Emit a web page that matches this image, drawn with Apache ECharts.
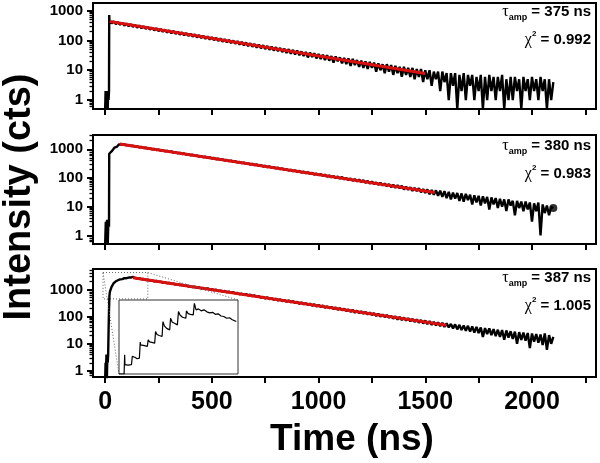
<!DOCTYPE html>
<html><head><meta charset="utf-8">
<script src="https://cdn.jsdelivr.net/npm/echarts@6/dist/echarts.min.js"></script>
<style>html,body{margin:0;padding:0;background:#fff}#c{width:600px;height:463px}</style>
</head><body><div id="c"></div>
<script>
// ---------- tick labels ----------
const xTickValues = [0, 250, 500, 750, 1000, 1250, 1500, 1750, 2000, 2250];
const xLabelValues = [0, 500, 1000, 1500, 2000];
const yLabelValues = [1, 10, 100, 1000];
const insetXTicks = [0, 13, 26, 39, 52, 65, 78, 91, 104, 117, 130, 143, 156, 169, 182, 195];
const insetYTicks = [600, 1200, 1800, 2400];

// ---------- annotations ----------
const tauTop = '375 ns', chiTop = '0.992';
const tauMid = '380 ns', chiMid = '0.983';
const tauBot = '387 ns', chiBot = '1.005';

// ---------- top panel data (time ns, counts) ----------
const topRiseTime = [0, 2, 4, 6, 8, 10, 12, 14, 16, 18, 19];
const topRiseCounts = [0.5, 2, 0.5, 2, 1, 2, 0.5, 2, 1, 2, 720];
const topDecayStart = 20, topDecayStep = 10;
const topDecayCounts = [
 455,378,432,355,410,340,390,318,370,302,
 350,288,332,272,316,258,298,246,284,232,
 268,220,255,206,242,197,229,186,218,176,
 206,168,196,158,186,150,176,143,167,135,
 159,128,150,121,143,114,135,108,128,103,
 122,97,116,91,110,87,104,82,99,78,
 94,73,89,69,85,65,80,62,76,58,
 72,55,69,52,65,49,62,46,59,44,
 56,41,53,38,51,36,48,34,46,32,
 43,30,41,27,39,28,37,25,35,24,
 33,22,32,21,30,18,29,20,27,17,
 26,16,25,14,24,15,22,13,21,12,
 20,11,19,12,18,9,17,10,16,8,
 16,9,15,7,14,8,13,6,13,7,
 12,6,12,5,11,6,11,4,10,5,
 10,3,9,5,9,2,9,4,8,1,
 8,3,8,0.5,7,2,8,1,7,3,
 7,1,6,2,7,0.5,6,1,7,2,
 6,1,6,2,7,0.5,5,1,6,1,
 6,2,5,0.5,6,2,5,1,6,2,
 5,1,6,2,5,0.5,5,1,4
];
const topFitTime = [22, 1500];
const topFitCounts = [430, 7.8];

// ---------- middle panel data ----------
const midRiseTime = [0, 3, 6, 9, 12, 15, 18, 19, 22, 25, 28, 31, 34, 37, 40, 44, 48, 52, 56, 60, 64];
const midRiseCounts = [0.5, 3, 1, 3.5, 0.5, 3, 2, 700, 620, 780, 680, 860, 760, 980, 900, 1150, 1080, 1300, 1250, 1420, 1480];
const midDecayStart = 70, midDecayStep = 10;
const midDecayCounts = [
 1560,1460,1475,1380,1400,1310,1330,1240,1265,1175,
 1200,1110,1140,1055,1080,1000,1030,950,975,905,
 925,855,880,815,850,770,800,730,755,690,
 715,655,680,620,645,590,610,560,580,530,
 550,505,525,480,500,450,470,428,448,405,
 425,385,405,365,385,345,362,330,345,310,
 326,295,312,280,296,265,280,250,265,238,
 252,226,240,215,228,203,215,192,204,181,
 194,172,184,164,176,154,166,147,158,140,
 150,132,142,126,136,120,130,112,122,106,
 116,100,112,95,108,90,100,85,96,80,
 91,76,88,73,84,68,79,64,75,62,
 70,58,68,55,64,52,61,48,58,46,
 56,44,53,40,50,39,47,36,45,35,
 44,32,41,30,40,27,38,26,37,24,
 36,22,35,20,33,18,31,19,30,16,
 29,15,28,17,26,12,25,14,24,11,
 23,13,22,8,21,12,20,9,19,10,
 18,7,18,11,16,5,16,9,15,7,
 15,8,14,3,13,7,14,1,12,6,
 11,5,10,9
];
const midFitTime = [69, 1545];
const midFitCounts = [1530, 31];

// ---------- bottom panel data ----------
const botRiseTime = [0, 2, 4, 6, 8, 10, 12, 14, 16, 18, 20, 22, 26, 30, 35, 40, 45, 50, 55, 60, 65, 70, 80, 90, 100, 110, 120, 130];
const botRiseCounts = [0.5, 2, 1, 4, 0.5, 3, 2, 4, 30, 180, 600, 820, 960, 1260, 1400, 1700, 1850, 2000, 2050, 2200, 2150, 2350, 2400, 2600, 2600, 2750, 2750, 2900];
const botDecayStart = 140, botDecayStep = 10;
const botDecayCounts = [
 2700,2520,2560,2390,2420,2240,2290,2120,2170,2000,
 2060,1900,1950,1800,1850,1700,1750,1610,1650,1520,
 1570,1440,1490,1360,1410,1290,1330,1220,1260,1150,
 1190,1090,1130,1030,1100,980,1040,930,985,870,
 910,830,880,790,835,760,790,720,750,660,
 700,630,680,600,640,570,600,530,570,500,
 530,470,510,445,480,420,455,395,432,375,
 410,352,392,338,374,318,352,296,335,285,
 312,270,298,255,285,238,270,228,256,215,
 238,205,228,192,218,180,206,172,196,162,
 182,152,176,140,165,136,156,130,148,122,
 140,115,134,106,127,101,120,97,114,92,
 106,85,102,78,97,75,92,72,87,68,
 82,64,79,60,75,56,72,53,68,50,
 64,48,61,45,59,42,57,40,54,37,
 52,34,50,32,47,30,46,28,44,26,
 42,25,40,18,38,23,37,21,35,19,
 33,18,32,14,31,17,29,15,28,10,
 27,14,26,13,25,7,24,12,23,11,
 22,9,24,6,21,10,18
];
const botFitTime = [131, 1600];
const botFitCounts = [2700, 48];

// ---------- inset (zoom of the rise in bottom panel) ----------
const insetTime = [-10, -1, 0, 0.5, 3, 6, 9, 12, 13.5, 14, 18, 22, 26, 27.5, 28, 31, 35, 40, 41.5, 44, 48, 53, 54.5, 57, 61, 66, 67.6, 70, 74, 79.5, 81, 84, 88, 93, 95, 98, 102, 108, 109, 112, 116, 121, 123, 126, 130, 135, 140, 145, 150, 155, 160, 165, 170, 175, 180, 185, 190, 197];
const insetCounts = [0, 0, 780, 377, 400, 360, 390, 380, 713, 646, 680, 620, 646, 1291, 1180, 1230, 1150, 1117, 1386, 1300, 1280, 1251, 1722, 1600, 1560, 1520, 2126, 1950, 1850, 1789, 2260, 2100, 2060, 1991, 2529, 2380, 2300, 2260, 2556, 2450, 2420, 2395, 2865, 2596, 2640, 2560, 2600, 2520, 2480, 2500, 2420, 2440, 2350, 2330, 2260, 2280, 2200, 2126];
const zoomBoxTime = [-10, 200];
const zoomBoxCounts = [450, 4200];
const midEndTime = [2100], midEndCounts = [9];

// ---------- helpers ----------
const zip = (xs, ys) => xs.map((x, i) => [x, ys[i]]);
const stepPairs = (start, step, ys) => ys.map((y, i) => [start + i * step, y]);

const topData = zip(topRiseTime, topRiseCounts).concat(stepPairs(topDecayStart, topDecayStep, topDecayCounts));
const midData = zip(midRiseTime, midRiseCounts).concat(stepPairs(midDecayStart, midDecayStep, midDecayCounts));
const botData = zip(botRiseTime, botRiseCounts).concat(stepPairs(botDecayStart, botDecayStep, botDecayCounts));

const FONT = '"Liberation Sans", Arial, sans-serif';
const grids = [
  {left: 93, right: 4, top: 3, height: 106},
  {left: 93, right: 4, top: 135, height: 109},
  {left: 93, right: 4, top: 269, height: 108}
];
const yRanges = [[0.5, 1810], [0.5, 3160], [0.6, 5680]];
const BLACK_W = 2.4;
const INSET_Y = 3;

const option = {
  backgroundColor: '#fff',
  animation: false,
  grid: grids.map(g => Object.assign({show: true, borderColor: '#000', borderWidth: 2, containLabel: false}, g)).concat([
    {left: 119, top: 300, width: 119, height: 74, show: true, borderColor: '#333', borderWidth: 1, backgroundColor: '#fff', z: 5}
  ]),
  xAxis: [0, 1, 2].map(i => ({
    type: 'value', gridIndex: i, min: -57, max: 2300, position: 'bottom',
    axisLine: {show: true, onZero: false, lineStyle: {color: '#000', width: 2}},
    axisTick: {show: true, inside: false, length: 6, customValues: xTickValues, lineStyle: {color: '#000', width: 2}},
    axisLabel: {show: i === 2, customValues: xLabelValues, margin: 13, color: '#000', fontSize: 25, fontWeight: 'bold', fontFamily: FONT, formatter: v => String(v)},
    splitLine: {show: false}
  })).concat([{
    type: 'value', gridIndex: 3, min: zoomBoxTime[0], max: zoomBoxTime[1], position: 'bottom',
    axisLine: {show: false, onZero: false},
    axisTick: {show: true, inside: true, length: 2, customValues: insetXTicks, lineStyle: {color: '#333', width: 1}},
    axisLabel: {show: false}, splitLine: {show: false}
  }]),
  yAxis: [0, 1, 2].map(i => ({
    type: 'log', gridIndex: i, position: 'left', min: yRanges[i][0], max: yRanges[i][1],
    axisLine: {show: true, onZero: false, lineStyle: {color: '#000', width: 2}},
    axisTick: {show: true, inside: false, length: 6, customValues: yLabelValues, lineStyle: {color: '#000', width: 2}},
    minorTick: {show: true, splitNumber: 9, length: 3.5, lineStyle: {color: '#000', width: 1.3}},
    axisLabel: {show: true, customValues: yLabelValues, margin: 10, color: '#000', fontSize: 15, fontWeight: 'bold', fontFamily: FONT, formatter: v => String(v)},
    splitLine: {show: false}, minorSplitLine: {show: false}
  })).concat([{
    type: 'value', gridIndex: 3, min: 0, max: 3000, position: 'left',
    axisLine: {show: false, onZero: false},
    axisTick: {show: true, inside: true, length: 2, customValues: insetYTicks, lineStyle: {color: '#333', width: 1}},
    axisLabel: {show: false}, splitLine: {show: false}
  }]),
  series: [
    {type: 'line', xAxisIndex: 0, yAxisIndex: 0, data: topData, showSymbol: false, clip: true,
     lineStyle: {color: '#000', width: BLACK_W}, z: 2},
    {type: 'line', xAxisIndex: 0, yAxisIndex: 0, data: zip(topFitTime, topFitCounts), showSymbol: false,
     lineStyle: {color: '#d81010', width: 3}, z: 3},
    {type: 'line', xAxisIndex: 1, yAxisIndex: 1, data: midData, showSymbol: false, clip: true,
     lineStyle: {color: '#000', width: BLACK_W}, z: 2},
    {type: 'scatter', xAxisIndex: 1, yAxisIndex: 1, data: zip(midEndTime, midEndCounts), symbolSize: 8,
     itemStyle: {color: '#000'}, z: 2},
    {type: 'line', xAxisIndex: 1, yAxisIndex: 1, data: zip(midFitTime, midFitCounts), showSymbol: false,
     lineStyle: {color: '#d81010', width: 3}, z: 3},
    {type: 'line', xAxisIndex: 2, yAxisIndex: 2, data: botData, showSymbol: false, clip: true,
     lineStyle: {color: '#000', width: BLACK_W}, z: 2,
     markArea: {silent: true, itemStyle: {color: 'rgba(0,0,0,0)', borderColor: '#666', borderWidth: 1, borderType: [1, 2]},
       data: [[{coord: [zoomBoxTime[0], zoomBoxCounts[1]]}, {coord: [zoomBoxTime[1], zoomBoxCounts[0]]}]]}},
    {type: 'line', xAxisIndex: 2, yAxisIndex: 2, data: zip(botFitTime, botFitCounts), showSymbol: false,
     lineStyle: {color: '#d81010', width: 3}, z: 3},
    {type: 'line', xAxisIndex: 3, yAxisIndex: INSET_Y, data: zip(insetTime, insetCounts), showSymbol: false, clip: true,
     lineStyle: {color: '#000', width: 1.2}, z: 6}
  ]
};

function annot(top, tau, chi, idBase) {
  const rich = {
    g: {fontFamily: '"Liberation Serif", "DejaVu Serif", serif', fontSize: 16, color: '#000', lineHeight: 20},
    sub: {fontFamily: FONT, fontSize: 9, fontWeight: 'bold', color: '#000', verticalAlign: 'bottom', lineHeight: 10},
    sup: {fontFamily: FONT, fontSize: 8, fontWeight: 'bold', color: '#000', verticalAlign: 'top', lineHeight: 10},
    m: {fontFamily: FONT, fontSize: 15, fontWeight: 'bold', color: '#000', lineHeight: 20}
  };
  return [
    {type: 'text', id: idBase + 't', right: 9, top: top, z: 10,
     style: {text: '{g|τ}{sub|amp}{m| = ' + tau + '}', rich: rich}},
    {type: 'text', id: idBase + 'c', right: 9, top: top + 26, z: 10,
     style: {text: '{g|χ}{sup|2}{m| = ' + chi + '}', rich: rich}}
  ];
}

option.graphic = {elements: [
  {type: 'text', id: 'ytitle', x: 20, y: 197, rotation: Math.PI / 2,
   style: {text: 'Intensity (cts)', font: 'bold 38px ' + FONT, fill: '#000', align: 'center', verticalAlign: 'middle'}},
  {type: 'text', id: 'xtitle', x: 352, y: 440,
   style: {text: 'Time (ns)', font: 'bold 37px ' + FONT, fill: '#000', align: 'center', verticalAlign: 'middle'}}
].concat(annot(4, tauTop, chiTop, 'a')).concat(annot(138, tauMid, chiMid, 'b')).concat(annot(270, tauBot, chiBot, 'c'))};

const chart = echarts.init(document.getElementById('c'), null, {renderer: 'canvas'});
chart.setOption(option);

// connectors from the zoom box to the inset, through the library's coordinate conversion
const boxTL = chart.convertToPixel({xAxisIndex: 2, yAxisIndex: 2}, [zoomBoxTime[0], zoomBoxCounts[1]]);
const boxTR = chart.convertToPixel({xAxisIndex: 2, yAxisIndex: 2}, [zoomBoxTime[1], zoomBoxCounts[1]]);
const insBL = chart.convertToPixel({xAxisIndex: 3, yAxisIndex: INSET_Y}, [zoomBoxTime[0], 0]);
const insTR = chart.convertToPixel({xAxisIndex: 3, yAxisIndex: INSET_Y}, [zoomBoxTime[1], 3000]);
const dotted = {stroke: '#666', lineWidth: 1, lineDash: [1, 2]};
chart.setOption({graphic: {elements: [
  {type: 'line', id: 'conn1', z: 4, shape: {x1: boxTL[0], y1: boxTL[1], x2: insBL[0], y2: insBL[1]}, style: dotted},
  {type: 'line', id: 'conn2', z: 4, shape: {x1: boxTR[0], y1: boxTR[1], x2: insTR[0], y2: insTR[1]}, style: dotted}
]}});
</script></body></html>
